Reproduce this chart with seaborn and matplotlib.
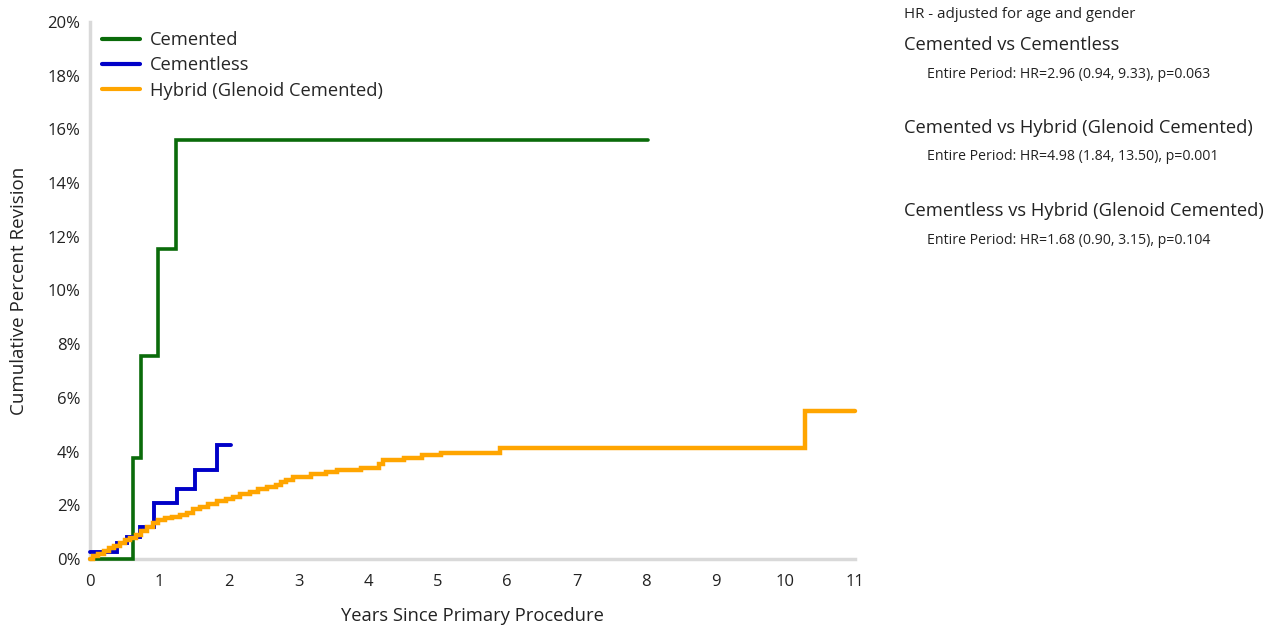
import pandas as pd
import matplotlib.pyplot as plt
import seaborn as sns

# Cumulative percent revision (step curves)
cemented_years = [0, 0.62, 0.73, 0.98, 1.24, 8.03]
cemented_pct = [0, 3.75, 7.55, 11.55, 15.62, 15.62]

cementless_years = [0, 0.39, 0.53, 0.72, 0.92, 1.25, 1.51, 1.83, 2.03]
cementless_pct = [0.27, 0.6, 0.82, 1.2, 2.08, 2.6, 3.3, 4.25, 4.25]

hybrid_years = [0, 0.05, 0.12, 0.2, 0.28, 0.35, 0.43, 0.5, 0.58, 0.66, 0.74, 0.82,
                0.9, 0.98, 1.08, 1.18, 1.3, 1.4, 1.48, 1.58, 1.7, 1.82, 1.95, 2.05,
                2.15, 2.3, 2.42, 2.55, 2.68, 2.75, 2.82, 2.92, 3.18, 3.4, 3.55, 3.9,
                4.15, 4.22, 4.52, 4.78, 5.05, 5.9, 10.28, 11.0]
hybrid_pct = [0, 0.1, 0.2, 0.3, 0.4, 0.5, 0.6, 0.7, 0.8, 0.9, 1.05, 1.2,
              1.35, 1.45, 1.52, 1.58, 1.65, 1.72, 1.85, 1.95, 2.05, 2.15, 2.22, 2.3,
              2.42, 2.5, 2.6, 2.68, 2.75, 2.85, 2.95, 3.05, 3.15, 3.25, 3.32, 3.4,
              3.55, 3.68, 3.78, 3.87, 3.95, 4.15, 5.5, 5.5]

groups = ["Cemented", "Cementless", "Hybrid (Glenoid Cemented)"]
colors = {"Cemented": "#0a6b0a", "Cementless": "#0000c8", "Hybrid (Glenoid Cemented)": "#ffa500"}
widths = {"Cemented": 2.6, "Cementless": 2.8, "Hybrid (Glenoid Cemented)": 3.2}

x_ticks = list(range(0, 12))
y_ticks = list(range(0, 21, 2))

hr_title = "HR - adjusted for age and gender"
hr_headers = ["Cemented vs Cementless",
              "Cemented vs Hybrid (Glenoid Cemented)",
              "Cementless vs Hybrid (Glenoid Cemented)"]
hr_lines = ["Entire Period: HR=2.96 (0.94, 9.33), p=0.063",
            "Entire Period: HR=4.98 (1.84, 13.50), p=0.001",
            "Entire Period: HR=1.68 (0.90, 3.15), p=0.104"]

df = pd.concat([
    pd.DataFrame({"years": cemented_years, "pct": cemented_pct, "group": groups[0]}),
    pd.DataFrame({"years": cementless_years, "pct": cementless_pct, "group": groups[1]}),
    pd.DataFrame({"years": hybrid_years, "pct": hybrid_pct, "group": groups[2]}),
])

sns.set_style("white")
plt.rcParams["font.family"] = ["Open Sans", "DejaVu Sans"]

W, H = 1271, 627
fig = plt.figure(figsize=(W / 100, H / 100), dpi=100)
ax = fig.add_axes([90 / W, 1 - 559 / H, (855 - 90) / W, (559 - 22) / H])

for g in groups:
    sub = df[df["group"] == g]
    sns.lineplot(data=sub, x="years", y="pct", ax=ax, color=colors[g],
                 linewidth=widths[g], drawstyle="steps-post", estimator=None,
                 sort=False, label=g, solid_joinstyle="miter", clip_on=False,
                 zorder=5)

ax.set_xlim(0, 11)
ax.set_ylim(0, 20)
ax.set_xticks(x_ticks)
ax.set_yticks(y_ticks)
ax.set_yticklabels([f"{v}%" for v in y_ticks])
ax.tick_params(axis="both", labelsize=12, length=4, width=1, color="#d0d0d0",
               direction="out", labelcolor="#222222")
ax.tick_params(axis="x", pad=7)
ax.tick_params(axis="y", pad=3)
for s in ["top", "right"]:
    ax.spines[s].set_visible(False)
for s in ["left", "bottom"]:
    ax.spines[s].set_color("#d9d9d9")
    ax.spines[s].set_linewidth(2.5)
ax.set_xlabel("Years Since Primary Procedure", fontsize=13.2, labelpad=12, color="#222222")
ax.set_ylabel("Cumulative Percent Revision", fontsize=13.5, labelpad=14, color="#222222")

leg = ax.legend(loc="upper left", bbox_to_anchor=(-0.006, 1.014), frameon=False,
                fontsize=13.2, handlelength=2.1, handletextpad=0.5, labelspacing=0.4)
for line in leg.get_lines():
    line.set_linewidth(3)

fig.text(904 / W, 1 - 14 / H, hr_title, fontsize=10.8, va="center", color="#222222")
hy = [45, 128, 211]
sy = [75, 157, 240]
for h, l, y1, y2 in zip(hr_headers, hr_lines, hy, sy):
    fig.text(904 / W, 1 - y1 / H, h, fontsize=13.2, va="center", color="#222222")
    fig.text(927 / W, 1 - y2 / H, l, fontsize=10.2, va="center", color="#222222")

fig.savefig("out.png", dpi=100)
